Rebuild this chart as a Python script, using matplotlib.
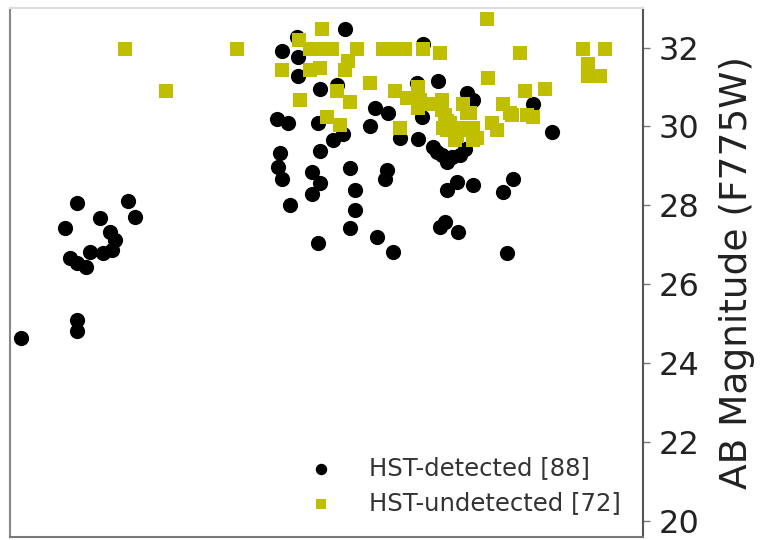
import matplotlib
matplotlib.use("Agg")
import matplotlib.pyplot as plt

# x: arbitrary horizontal units (no axis labels in the reference)
det_x = [21, 77, 77, 77, 128, 135, 65, 100, 110, 115, 90, 103, 112, 70, 77, 86,
         345, 297, 282, 298, 298, 320, 337, 417, 438, 467, 473, 533, 552, 277,
         288, 318, 370, 375, 388, 422, 400, 418, 343, 333, 320, 433, 442, 452,
         460, 447, 280, 278, 282, 312, 320, 312, 350, 387, 385, 355, 290, 355,
         350, 318, 377, 393, 440, 445, 458, 447, 457, 473, 503, 513, 507, 423,
         437, 465]
det_mag = [24.63, 25.09, 24.81, 28.05, 28.10, 27.70, 27.42, 27.67, 27.32, 27.11,
           26.81, 26.78, 26.86, 26.66, 26.53, 26.43,
           32.48, 32.28, 31.92, 31.75, 31.29, 30.94, 31.04, 31.11, 31.16, 30.86,
           30.66, 30.58, 29.85, 30.20, 30.08, 30.10, 30.00, 30.48, 30.35, 30.23,
           29.72, 29.67, 29.82, 29.65, 29.39, 29.47, 29.27, 29.22, 29.27, 29.09,
           29.32, 28.96, 28.68, 28.84, 28.56, 28.30, 28.94, 28.89, 28.68, 28.38,
           28.00, 27.87, 27.42, 27.04, 27.19, 26.81, 27.44, 27.57, 27.32, 28.38,
           28.58, 28.51, 28.33, 28.68, 26.78, 32.10, 29.34, 29.44]

und_x = [125, 237, 166, 487, 322, 299, 310, 322, 332, 357, 383, 393, 405, 423,
         440, 520, 583, 605, 588, 588, 600, 282, 310, 320, 348, 345, 370, 488,
         337, 350, 300, 395, 407, 418, 420, 418, 442, 442, 447, 447, 460, 470,
         473, 473, 525, 545, 503, 512, 492, 497, 527, 533, 327, 340, 400, 445,
         443, 457, 463, 467, 510, 477, 455, 450, 430, 463]
und_mag = [31.97, 31.97, 30.89, 32.73, 32.46, 32.18, 31.97, 31.97, 31.97, 31.97,
           31.97, 31.97, 31.97, 31.97, 31.85, 31.85, 31.97, 31.97, 31.59, 31.29,
           31.29, 31.42, 31.42, 31.49, 31.67, 31.42, 31.09, 31.24, 30.91, 30.61,
           30.66, 30.91, 30.73, 30.99, 30.66, 30.48, 30.66, 30.41, 30.15, 29.90,
           29.90, 30.33, 29.97, 29.65, 30.91, 30.96, 30.58, 30.28, 30.08, 29.90,
           30.28, 30.23, 30.23, 30.03, 29.97, 30.28, 29.95, 29.77, 29.95, 30.35,
           30.33, 29.70, 29.65, 30.08, 30.56, 30.58]

labels = ["HST-detected [88]", "HST-undetected [72]"]
yticks = [20, 22, 24, 26, 28, 30, 32]

fig = plt.figure(figsize=(7.7, 5.4), dpi=100)
ax = fig.add_axes([0.013, 0.006, 0.822, 0.979])

ax.scatter(det_x, det_mag, s=120, marker="o", color="black", linewidths=0,
           label=labels[0], zorder=2)
ax.scatter(und_x, und_mag, s=100, marker="s", color="y", linewidths=0,
           label=labels[1], zorder=3)

ax.set_xlim(10, 643)
ax.set_ylim(19.6, 33.0)
ax.set_xticks([])
ax.yaxis.tick_right()
ax.yaxis.set_label_position("right")
ax.set_yticks(yticks)
ax.tick_params(axis="y", labelsize=23, length=5, width=1, color="#777777",
               pad=6, labelcolor="#222222")
ax.set_ylabel("AB Magnitude (F775W)", fontsize=27, color="#222222", labelpad=14)

ax.spines["left"].set_color("#888888")
ax.spines["bottom"].set_color("#777777")
ax.spines["top"].set_color("#dddddd")
ax.spines["right"].set_color("#555555")
for s in ax.spines.values():
    s.set_linewidth(1.5)

leg = ax.legend(loc="lower right", frameon=False, fontsize=17.5, handletextpad=1.0,
                markerscale=0.75, labelspacing=0.45, borderaxespad=0.5)
for t in leg.get_texts():
    t.set_color("#333333")

fig.savefig("out.png", dpi=100)
